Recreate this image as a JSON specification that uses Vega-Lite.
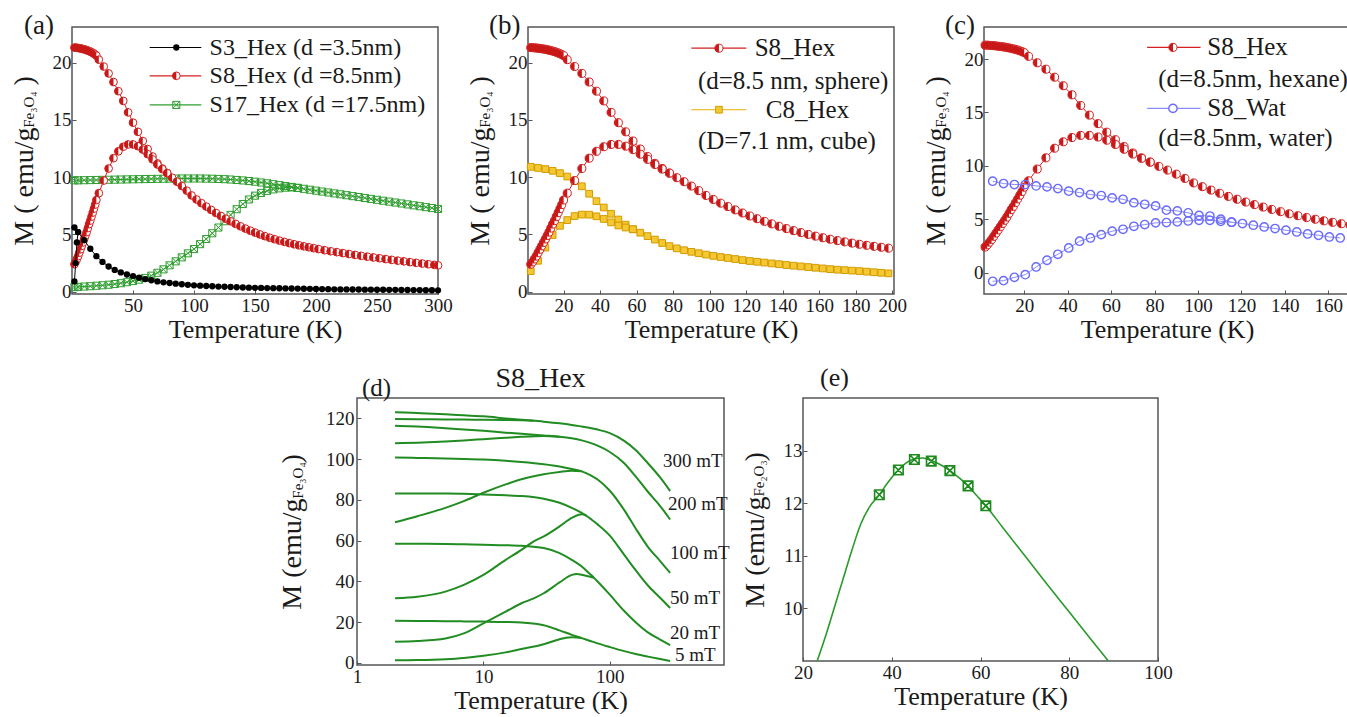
{
"$schema": "https://vega.github.io/schema/vega-lite/v6.json",
"padding": {"left": 9, "top": 11, "right": 0, "bottom": 0},
"config": {
  "font": "Liberation Serif",
  "view": {"stroke": "#555", "strokeWidth": 1.5},
  "axis": {"labelFont": "Liberation Serif", "titleFont": "Liberation Serif", "labelFontSize": 19, "titleFontSize": 26, "titleFontWeight": "normal", "labelColor": "#1a1a1a", "titleColor": "#1a1a1a", "domain": false, "grid": false, "tickColor": "#555", "tickSize": -4, "tickWidth": 1, "labelFlush": false, "labelOverlap": false},
  "axisX": {"labelPadding": 6, "titlePadding": 1},
  "axisY": {"labelPadding": 5, "titlePadding": 14, "titleFontSize": 28},
  "title": {"font": "Liberation Serif", "fontWeight": "normal", "color": "#1a1a1a", "fontSize": 24},
  "text": {"font": "Liberation Serif", "color": "#1a1a1a"}
},
"datasets": {
"s3": [
{"b":"Z","T":2,"M":0.9},{"b":"Z","T":3,"M":2.5},{"b":"Z","T":4,"M":4.3},{"b":"Z","T":5,"M":5.2},
{"b":"F","T":2,"M":5.6},{"b":"F","T":5,"M":5.2},{"b":"F","T":10,"M":4.5},{"b":"F","T":15,"M":3.75},{"b":"F","T":20,"M":3.1},{"b":"F","T":25,"M":2.6},{"b":"F","T":30,"M":2.2},{"b":"F","T":35,"M":1.9},{"b":"F","T":40,"M":1.68},{"b":"F","T":45,"M":1.5},{"b":"F","T":50,"M":1.36},{"b":"F","T":55,"M":1.22},{"b":"F","T":60,"M":1.1},{"b":"F","T":65,"M":1.0},{"b":"F","T":70,"M":0.9},{"b":"F","T":75,"M":0.82},{"b":"F","T":80,"M":0.76},{"b":"F","T":85,"M":0.7},{"b":"F","T":90,"M":0.65},{"b":"F","T":95,"M":0.6},{"b":"F","T":100,"M":0.56},{"b":"F","T":105,"M":0.53},{"b":"F","T":110,"M":0.5},{"b":"F","T":115,"M":0.475},{"b":"F","T":120,"M":0.45},{"b":"F","T":125,"M":0.43},{"b":"F","T":130,"M":0.41},{"b":"F","T":135,"M":0.39},{"b":"F","T":140,"M":0.37},{"b":"F","T":145,"M":0.355},{"b":"F","T":150,"M":0.34},{"b":"F","T":155,"M":0.33},{"b":"F","T":160,"M":0.32},{"b":"F","T":165,"M":0.31},{"b":"F","T":170,"M":0.3},{"b":"F","T":175,"M":0.29},{"b":"F","T":180,"M":0.28},{"b":"F","T":185,"M":0.27},{"b":"F","T":190,"M":0.26},{"b":"F","T":195,"M":0.25},{"b":"F","T":200,"M":0.24},{"b":"F","T":205,"M":0.23},{"b":"F","T":210,"M":0.22},{"b":"F","T":215,"M":0.21},{"b":"F","T":220,"M":0.2},{"b":"F","T":225,"M":0.2},{"b":"F","T":230,"M":0.19},{"b":"F","T":235,"M":0.19},{"b":"F","T":240,"M":0.18},{"b":"F","T":245,"M":0.18},{"b":"F","T":250,"M":0.17},{"b":"F","T":255,"M":0.17},{"b":"F","T":260,"M":0.16},{"b":"F","T":265,"M":0.16},{"b":"F","T":270,"M":0.15},{"b":"F","T":275,"M":0.15},{"b":"F","T":280,"M":0.14},{"b":"F","T":285,"M":0.14},{"b":"F","T":290,"M":0.13},{"b":"F","T":295,"M":0.13},{"b":"F","T":300,"M":0.12}
],
"s8": [
{"b":"F","T":2,"M":21.3},{"b":"F","T":3,"M":21.3},{"b":"F","T":4,"M":21.28},{"b":"F","T":5,"M":21.27},{"b":"F","T":6,"M":21.25},{"b":"F","T":7,"M":21.23},{"b":"F","T":8,"M":21.2},{"b":"F","T":9,"M":21.18},{"b":"F","T":10,"M":21.15},{"b":"F","T":11,"M":21.12},{"b":"F","T":12,"M":21.08},{"b":"F","T":13,"M":21.04},{"b":"F","T":14,"M":21.0},{"b":"F","T":15,"M":20.95},{"b":"F","T":16,"M":20.9},{"b":"F","T":17,"M":20.84},{"b":"F","T":18,"M":20.77},{"b":"F","T":19,"M":20.7},{"b":"F","T":20,"M":20.6},{"b":"F","T":22,"M":20.25},{"b":"F","T":26,"M":19.65},{"b":"F","T":30,"M":19.05},{"b":"F","T":34,"M":18.3},{"b":"F","T":38,"M":17.5},{"b":"F","T":42,"M":16.65},{"b":"F","T":46,"M":15.65},{"b":"F","T":50,"M":14.75},{"b":"F","T":54,"M":13.95},{"b":"F","T":58,"M":13.15},{"b":"F","T":62,"M":12.45},{"b":"F","T":66,"M":11.8},{"b":"F","T":70,"M":11.2},{"b":"F","T":74,"M":10.75},{"b":"F","T":78,"M":10.35},{"b":"F","T":82,"M":9.95},{"b":"F","T":86,"M":9.6},{"b":"F","T":90,"M":9.22},{"b":"F","T":94,"M":8.82},{"b":"F","T":98,"M":8.4},{"b":"F","T":102,"M":8.05},{"b":"F","T":106,"M":7.73},{"b":"F","T":110,"M":7.43},{"b":"F","T":114,"M":7.14},{"b":"F","T":118,"M":6.87},{"b":"F","T":122,"M":6.61},{"b":"F","T":126,"M":6.37},{"b":"F","T":130,"M":6.14},{"b":"F","T":134,"M":5.92},{"b":"F","T":138,"M":5.71},{"b":"F","T":142,"M":5.51},{"b":"F","T":146,"M":5.33},{"b":"F","T":150,"M":5.16},{"b":"F","T":154,"M":5.0},{"b":"F","T":158,"M":4.85},{"b":"F","T":162,"M":4.71},{"b":"F","T":166,"M":4.58},{"b":"F","T":170,"M":4.46},{"b":"F","T":174,"M":4.35},{"b":"F","T":178,"M":4.24},{"b":"F","T":182,"M":4.14},{"b":"F","T":186,"M":4.05},{"b":"F","T":190,"M":3.96},{"b":"F","T":194,"M":3.88},{"b":"F","T":198,"M":3.8},{"b":"F","T":202,"M":3.72},{"b":"F","T":207,"M":3.62},{"b":"F","T":212,"M":3.53},{"b":"F","T":217,"M":3.45},{"b":"F","T":222,"M":3.37},{"b":"F","T":227,"M":3.29},{"b":"F","T":232,"M":3.21},{"b":"F","T":237,"M":3.13},{"b":"F","T":242,"M":3.06},{"b":"F","T":247,"M":2.99},{"b":"F","T":252,"M":2.92},{"b":"F","T":257,"M":2.85},{"b":"F","T":262,"M":2.78},{"b":"F","T":267,"M":2.71},{"b":"F","T":272,"M":2.65},{"b":"F","T":277,"M":2.58},{"b":"F","T":282,"M":2.52},{"b":"F","T":287,"M":2.46},{"b":"F","T":292,"M":2.4},{"b":"F","T":297,"M":2.34},{"b":"F","T":300,"M":2.3},
{"b":"Z","T":2,"M":2.4},{"b":"Z","T":3,"M":2.6},{"b":"Z","T":4,"M":2.85},{"b":"Z","T":5,"M":3.1},{"b":"Z","T":6,"M":3.4},{"b":"Z","T":7,"M":3.7},{"b":"Z","T":8,"M":4.0},{"b":"Z","T":9,"M":4.3},{"b":"Z","T":10,"M":4.6},{"b":"Z","T":11,"M":4.9},{"b":"Z","T":12,"M":5.2},{"b":"Z","T":13,"M":5.55},{"b":"Z","T":14,"M":5.9},{"b":"Z","T":15,"M":6.2},{"b":"Z","T":16,"M":6.55},{"b":"Z","T":17,"M":6.9},{"b":"Z","T":18,"M":7.25},{"b":"Z","T":19,"M":7.6},{"b":"Z","T":20,"M":8.0},{"b":"Z","T":22,"M":8.6},{"b":"Z","T":26,"M":9.7},{"b":"Z","T":30,"M":10.75},{"b":"Z","T":34,"M":11.65},{"b":"Z","T":38,"M":12.25},{"b":"Z","T":42,"M":12.65},{"b":"Z","T":46,"M":12.85},{"b":"Z","T":50,"M":12.85},{"b":"Z","T":54,"M":12.7},{"b":"Z","T":58,"M":12.4},{"b":"Z","T":62,"M":12.0},{"b":"Z","T":66,"M":11.55},{"b":"Z","T":70,"M":11.1},{"b":"Z","T":74,"M":10.7},{"b":"Z","T":78,"M":10.35}
],
"s17": [
{"b":"F","T":2,"M":9.72},{"b":"F","T":5,"M":9.72},{"b":"F","T":10,"M":9.73},{"b":"F","T":15,"M":9.74},{"b":"F","T":20,"M":9.75},{"b":"F","T":25,"M":9.76},{"b":"F","T":30,"M":9.77},{"b":"F","T":35,"M":9.78},{"b":"F","T":40,"M":9.79},{"b":"F","T":45,"M":9.8},{"b":"F","T":50,"M":9.81},{"b":"F","T":55,"M":9.82},{"b":"F","T":60,"M":9.83},{"b":"F","T":65,"M":9.84},{"b":"F","T":70,"M":9.85},{"b":"F","T":75,"M":9.86},{"b":"F","T":80,"M":9.87},{"b":"F","T":85,"M":9.87},{"b":"F","T":90,"M":9.88},{"b":"F","T":95,"M":9.88},{"b":"F","T":100,"M":9.88},{"b":"F","T":105,"M":9.88},{"b":"F","T":110,"M":9.87},{"b":"F","T":115,"M":9.86},{"b":"F","T":120,"M":9.84},{"b":"F","T":125,"M":9.82},{"b":"F","T":130,"M":9.79},{"b":"F","T":135,"M":9.75},{"b":"F","T":140,"M":9.71},{"b":"F","T":145,"M":9.66},{"b":"F","T":150,"M":9.6},{"b":"F","T":155,"M":9.53},{"b":"F","T":160,"M":9.46},{"b":"F","T":165,"M":9.38},{"b":"F","T":170,"M":9.3},{"b":"F","T":175,"M":9.22},{"b":"F","T":180,"M":9.14},{"b":"F","T":185,"M":9.06},{"b":"F","T":190,"M":8.98},{"b":"F","T":195,"M":8.9},{"b":"F","T":200,"M":8.82},{"b":"F","T":205,"M":8.74},{"b":"F","T":210,"M":8.66},{"b":"F","T":215,"M":8.58},{"b":"F","T":220,"M":8.5},{"b":"F","T":225,"M":8.42},{"b":"F","T":230,"M":8.34},{"b":"F","T":235,"M":8.26},{"b":"F","T":240,"M":8.18},{"b":"F","T":245,"M":8.1},{"b":"F","T":250,"M":8.02},{"b":"F","T":255,"M":7.94},{"b":"F","T":260,"M":7.86},{"b":"F","T":265,"M":7.78},{"b":"F","T":270,"M":7.7},{"b":"F","T":275,"M":7.62},{"b":"F","T":280,"M":7.54},{"b":"F","T":285,"M":7.46},{"b":"F","T":290,"M":7.38},{"b":"F","T":295,"M":7.3},{"b":"F","T":300,"M":7.22},
{"b":"Z","T":2,"M":0.4},{"b":"Z","T":5,"M":0.42},{"b":"Z","T":10,"M":0.45},{"b":"Z","T":15,"M":0.48},{"b":"Z","T":20,"M":0.52},{"b":"Z","T":25,"M":0.56},{"b":"Z","T":30,"M":0.61},{"b":"Z","T":35,"M":0.67},{"b":"Z","T":40,"M":0.74},{"b":"Z","T":45,"M":0.83},{"b":"Z","T":50,"M":0.93},{"b":"Z","T":55,"M":1.05},{"b":"Z","T":60,"M":1.2},{"b":"Z","T":65,"M":1.4},{"b":"Z","T":70,"M":1.65},{"b":"Z","T":75,"M":1.95},{"b":"Z","T":80,"M":2.3},{"b":"Z","T":85,"M":2.65},{"b":"Z","T":90,"M":3.0},{"b":"Z","T":95,"M":3.35},{"b":"Z","T":100,"M":3.72},{"b":"Z","T":105,"M":4.15},{"b":"Z","T":110,"M":4.6},{"b":"Z","T":115,"M":5.1},{"b":"Z","T":120,"M":5.6},{"b":"Z","T":125,"M":6.15},{"b":"Z","T":130,"M":6.7},{"b":"Z","T":135,"M":7.2},{"b":"Z","T":140,"M":7.65},{"b":"Z","T":145,"M":8.05},{"b":"Z","T":150,"M":8.38},{"b":"Z","T":155,"M":8.62},{"b":"Z","T":160,"M":8.8},{"b":"Z","T":165,"M":8.93},{"b":"Z","T":170,"M":9.02},{"b":"Z","T":175,"M":9.08},{"b":"Z","T":180,"M":9.1},{"b":"Z","T":185,"M":9.06}
],
"c8": [
{"b":"F","T":2,"M":10.9},{"b":"F","T":6,"M":10.8},{"b":"F","T":10,"M":10.7},{"b":"F","T":14,"M":10.55},{"b":"F","T":18,"M":10.35},{"b":"F","T":22,"M":10.05},{"b":"F","T":26,"M":9.65},{"b":"F","T":30,"M":9.2},{"b":"F","T":34,"M":8.55},{"b":"F","T":38,"M":7.9},{"b":"F","T":42,"M":7.35},{"b":"F","T":46,"M":6.8},{"b":"F","T":50,"M":6.3},{"b":"F","T":54,"M":5.85},{"b":"F","T":58,"M":5.45},{"b":"F","T":62,"M":5.15},{"b":"F","T":66,"M":4.85},{"b":"F","T":70,"M":4.55},{"b":"F","T":74,"M":4.25},{"b":"F","T":78,"M":3.98},{"b":"F","T":82,"M":3.78},{"b":"F","T":86,"M":3.62},{"b":"F","T":90,"M":3.48},{"b":"F","T":94,"M":3.36},{"b":"F","T":98,"M":3.24},{"b":"F","T":102,"M":3.13},{"b":"F","T":106,"M":3.03},{"b":"F","T":110,"M":2.94},{"b":"F","T":114,"M":2.85},{"b":"F","T":118,"M":2.76},{"b":"F","T":122,"M":2.68},{"b":"F","T":126,"M":2.61},{"b":"F","T":130,"M":2.54},{"b":"F","T":134,"M":2.47},{"b":"F","T":138,"M":2.4},{"b":"F","T":142,"M":2.33},{"b":"F","T":146,"M":2.27},{"b":"F","T":150,"M":2.21},{"b":"F","T":154,"M":2.15},{"b":"F","T":158,"M":2.09},{"b":"F","T":162,"M":2.03},{"b":"F","T":166,"M":1.97},{"b":"F","T":170,"M":1.92},{"b":"F","T":174,"M":1.88},{"b":"F","T":178,"M":1.84},{"b":"F","T":182,"M":1.8},{"b":"F","T":186,"M":1.75},{"b":"F","T":190,"M":1.7},{"b":"F","T":194,"M":1.65},{"b":"F","T":198,"M":1.6},
{"b":"Z","T":2,"M":1.8},{"b":"Z","T":6,"M":2.7},{"b":"Z","T":10,"M":3.85},{"b":"Z","T":14,"M":4.95},{"b":"Z","T":18,"M":5.75},{"b":"Z","T":22,"M":6.25},{"b":"Z","T":26,"M":6.6},{"b":"Z","T":30,"M":6.73},{"b":"Z","T":34,"M":6.72},{"b":"Z","T":38,"M":6.58},{"b":"Z","T":42,"M":6.35},{"b":"Z","T":46,"M":6.05},{"b":"Z","T":50,"M":5.78},{"b":"Z","T":54,"M":5.6},{"b":"Z","T":58,"M":5.45}
],
"wat": [
{"b":"F","T":5.5,"M":8.56},{"b":"F","T":10.5,"M":8.34},{"b":"F","T":15.5,"M":8.25},{"b":"F","T":20.5,"M":8.25},{"b":"F","T":25.5,"M":8.12},{"b":"F","T":30.5,"M":8.03},{"b":"F","T":35.5,"M":7.87},{"b":"F","T":40.5,"M":7.63},{"b":"F","T":45.5,"M":7.5},{"b":"F","T":50.5,"M":7.31},{"b":"F","T":55.5,"M":7.22},{"b":"F","T":60.5,"M":7.0},{"b":"F","T":65.5,"M":6.87},{"b":"F","T":70.5,"M":6.55},{"b":"F","T":75.5,"M":6.4},{"b":"F","T":80.5,"M":6.25},{"b":"F","T":85.5,"M":5.85},{"b":"F","T":90.5,"M":5.78},{"b":"F","T":95.5,"M":5.6},{"b":"F","T":100.5,"M":5.35},{"b":"F","T":105.5,"M":5.3},{"b":"F","T":110.5,"M":5.0},{"b":"F","T":115.5,"M":4.72},
{"b":"Z","T":5.5,"M":-0.81},{"b":"Z","T":10.5,"M":-0.75},{"b":"Z","T":15.5,"M":-0.44},{"b":"Z","T":20.5,"M":-0.19},{"b":"Z","T":25.5,"M":0.53},{"b":"Z","T":30.5,"M":1.16},{"b":"Z","T":35.5,"M":1.72},{"b":"Z","T":40.5,"M":2.31},{"b":"Z","T":45.5,"M":2.94},{"b":"Z","T":50.5,"M":3.25},{"b":"Z","T":55.5,"M":3.56},{"b":"Z","T":60.5,"M":3.88},{"b":"Z","T":65.5,"M":4.06},{"b":"Z","T":70.5,"M":4.34},{"b":"Z","T":75.5,"M":4.5},{"b":"Z","T":80.5,"M":4.66},{"b":"Z","T":85.5,"M":4.69},{"b":"Z","T":90.5,"M":4.75},{"b":"Z","T":95.5,"M":4.84},{"b":"Z","T":100.5,"M":4.9},{"b":"Z","T":105.5,"M":4.9},{"b":"Z","T":110.5,"M":4.81},{"b":"Z","T":115.5,"M":4.72},{"b":"Z","T":120.5,"M":4.6},{"b":"Z","T":125.5,"M":4.44},{"b":"Z","T":130.5,"M":4.28},{"b":"Z","T":135.5,"M":4.13},{"b":"Z","T":140.5,"M":3.97},{"b":"Z","T":145.5,"M":3.81},{"b":"Z","T":150.5,"M":3.62},{"b":"Z","T":155.5,"M":3.5},{"b":"Z","T":160.5,"M":3.34},{"b":"Z","T":165.5,"M":3.25}
],
"d": [
{"f":"300","b":"F","T":2,"M":123},{"f":"300","b":"F","T":3,"M":122.6},{"f":"300","b":"F","T":5,"M":122},{"f":"300","b":"F","T":7,"M":121.5},{"f":"300","b":"F","T":10,"M":121},{"f":"300","b":"F","T":15,"M":120},{"f":"300","b":"F","T":20,"M":119.3},{"f":"300","b":"F","T":30,"M":118.4},{"f":"300","b":"F","T":40,"M":117.6},{"f":"300","b":"F","T":50,"M":116.8},{"f":"300","b":"F","T":60,"M":116},{"f":"300","b":"F","T":70,"M":115.3},{"f":"300","b":"F","T":80,"M":114.5},{"f":"300","b":"F","T":100,"M":112.8},{"f":"300","b":"F","T":130,"M":109},{"f":"300","b":"F","T":160,"M":104.5},{"f":"300","b":"F","T":200,"M":98},{"f":"300","b":"F","T":250,"M":91},{"f":"300","b":"F","T":300,"M":84.3},
{"f":"300","b":"Z","T":2,"M":119.7},{"f":"300","b":"Z","T":3,"M":119.6},{"f":"300","b":"Z","T":5,"M":119.5},{"f":"300","b":"Z","T":7,"M":119.4},{"f":"300","b":"Z","T":10,"M":119.3},{"f":"300","b":"Z","T":15,"M":119.2},{"f":"300","b":"Z","T":20,"M":119.05},{"f":"300","b":"Z","T":25,"M":118.85},
{"f":"200","b":"F","T":2,"M":116.4},{"f":"200","b":"F","T":3,"M":116},{"f":"200","b":"F","T":5,"M":115.2},{"f":"200","b":"F","T":7,"M":114.6},{"f":"200","b":"F","T":10,"M":113.9},{"f":"200","b":"F","T":15,"M":113},{"f":"200","b":"F","T":20,"M":112.4},{"f":"200","b":"F","T":30,"M":111.6},{"f":"200","b":"F","T":40,"M":111},{"f":"200","b":"F","T":50,"M":110.2},{"f":"200","b":"F","T":60,"M":109.2},{"f":"200","b":"F","T":70,"M":108},{"f":"200","b":"F","T":80,"M":106.6},{"f":"200","b":"F","T":100,"M":103.5},{"f":"200","b":"F","T":130,"M":98},{"f":"200","b":"F","T":160,"M":91.5},{"f":"200","b":"F","T":200,"M":84},{"f":"200","b":"F","T":250,"M":77},{"f":"200","b":"F","T":300,"M":70.4},
{"f":"200","b":"Z","T":2,"M":107.8},{"f":"200","b":"Z","T":3,"M":108.1},{"f":"200","b":"Z","T":5,"M":108.7},{"f":"200","b":"Z","T":7,"M":109.2},{"f":"200","b":"Z","T":10,"M":109.8},{"f":"200","b":"Z","T":15,"M":110.5},{"f":"200","b":"Z","T":20,"M":111},{"f":"200","b":"Z","T":30,"M":111.4},{"f":"200","b":"Z","T":40,"M":111},
{"f":"100","b":"F","T":2,"M":100.8},{"f":"100","b":"F","T":3,"M":100.6},{"f":"100","b":"F","T":5,"M":100.3},{"f":"100","b":"F","T":7,"M":100.1},{"f":"100","b":"F","T":10,"M":99.8},{"f":"100","b":"F","T":15,"M":99.2},{"f":"100","b":"F","T":20,"M":98.6},{"f":"100","b":"F","T":30,"M":97.5},{"f":"100","b":"F","T":40,"M":96.4},{"f":"100","b":"F","T":50,"M":95.2},{"f":"100","b":"F","T":60,"M":94},{"f":"100","b":"F","T":70,"M":92.2},{"f":"100","b":"F","T":80,"M":90},{"f":"100","b":"F","T":100,"M":84.5},{"f":"100","b":"F","T":130,"M":75},{"f":"100","b":"F","T":160,"M":66},{"f":"100","b":"F","T":200,"M":57},{"f":"100","b":"F","T":250,"M":50},{"f":"100","b":"F","T":300,"M":44.2},
{"f":"100","b":"Z","T":2,"M":69},{"f":"100","b":"Z","T":3,"M":72},{"f":"100","b":"Z","T":5,"M":76.1},{"f":"100","b":"Z","T":7,"M":79.4},{"f":"100","b":"Z","T":10,"M":83.5},{"f":"100","b":"Z","T":15,"M":87.6},{"f":"100","b":"Z","T":20,"M":90.1},{"f":"100","b":"Z","T":30,"M":92.6},{"f":"100","b":"Z","T":40,"M":93.7},{"f":"100","b":"Z","T":50,"M":94.3},{"f":"100","b":"Z","T":60,"M":94},
{"f":"50","b":"F","T":2,"M":83.2},{"f":"50","b":"F","T":3,"M":83.15},{"f":"50","b":"F","T":5,"M":83.1},{"f":"50","b":"F","T":7,"M":83},{"f":"50","b":"F","T":10,"M":82.7},{"f":"50","b":"F","T":15,"M":82.3},{"f":"50","b":"F","T":20,"M":81.9},{"f":"50","b":"F","T":30,"M":80.6},{"f":"50","b":"F","T":40,"M":78.6},{"f":"50","b":"F","T":50,"M":76.1},{"f":"50","b":"F","T":60,"M":73.6},{"f":"50","b":"F","T":65,"M":72.3},{"f":"50","b":"F","T":70,"M":70.8},{"f":"50","b":"F","T":80,"M":68},{"f":"50","b":"F","T":100,"M":62.5},{"f":"50","b":"F","T":130,"M":53},{"f":"50","b":"F","T":160,"M":45.5},{"f":"50","b":"F","T":200,"M":38},{"f":"50","b":"F","T":250,"M":32},{"f":"50","b":"F","T":300,"M":27},
{"f":"50","b":"Z","T":2,"M":31.7},{"f":"50","b":"Z","T":3,"M":32.5},{"f":"50","b":"Z","T":5,"M":35},{"f":"50","b":"Z","T":7,"M":38.3},{"f":"50","b":"Z","T":10,"M":43.2},{"f":"50","b":"Z","T":15,"M":50.6},{"f":"50","b":"Z","T":20,"M":55.5},{"f":"50","b":"Z","T":25,"M":59.7},{"f":"50","b":"Z","T":30,"M":62.1},{"f":"50","b":"Z","T":40,"M":67},{"f":"50","b":"Z","T":50,"M":71.2},{"f":"50","b":"Z","T":60,"M":73},{"f":"50","b":"Z","T":65,"M":72.3},
{"f":"20","b":"F","T":2,"M":58.5},{"f":"20","b":"F","T":3,"M":58.5},{"f":"20","b":"F","T":5,"M":58.4},{"f":"20","b":"F","T":7,"M":58.2},{"f":"20","b":"F","T":10,"M":58},{"f":"20","b":"F","T":15,"M":57.8},{"f":"20","b":"F","T":20,"M":57.5},{"f":"20","b":"F","T":30,"M":56.4},{"f":"20","b":"F","T":40,"M":53.9},{"f":"20","b":"F","T":50,"M":50.6},{"f":"20","b":"F","T":60,"M":47.3},{"f":"20","b":"F","T":70,"M":43.5},{"f":"20","b":"F","T":75,"M":41.75},{"f":"20","b":"F","T":80,"M":40},{"f":"20","b":"F","T":100,"M":33.5},{"f":"20","b":"F","T":130,"M":25.5},{"f":"20","b":"F","T":160,"M":20},{"f":"20","b":"F","T":200,"M":15},{"f":"20","b":"F","T":250,"M":11.5},{"f":"20","b":"F","T":300,"M":8.7},
{"f":"20","b":"Z","T":2,"M":10.4},{"f":"20","b":"Z","T":3,"M":10.8},{"f":"20","b":"Z","T":5,"M":12},{"f":"20","b":"Z","T":7,"M":14.5},{"f":"20","b":"Z","T":10,"M":19.4},{"f":"20","b":"Z","T":15,"M":25.2},{"f":"20","b":"Z","T":20,"M":29.3},{"f":"20","b":"Z","T":25,"M":31.7},{"f":"20","b":"Z","T":30,"M":34.2},{"f":"20","b":"Z","T":40,"M":39.5},{"f":"20","b":"Z","T":50,"M":43.2},{"f":"20","b":"Z","T":55,"M":43.7},{"f":"20","b":"Z","T":60,"M":43.3},{"f":"20","b":"Z","T":70,"M":42.3},{"f":"20","b":"Z","T":75,"M":41.75},
{"f":"5","b":"F","T":2,"M":20.7},{"f":"5","b":"F","T":3,"M":20.6},{"f":"5","b":"F","T":5,"M":20.5},{"f":"5","b":"F","T":7,"M":20.4},{"f":"5","b":"F","T":10,"M":20.3},{"f":"5","b":"F","T":15,"M":20.1},{"f":"5","b":"F","T":20,"M":19.8},{"f":"5","b":"F","T":30,"M":18.5},{"f":"5","b":"F","T":40,"M":16},{"f":"5","b":"F","T":50,"M":13.8},{"f":"5","b":"F","T":60,"M":12.2},{"f":"5","b":"F","T":70,"M":10.8},{"f":"5","b":"F","T":80,"M":9.6},{"f":"5","b":"F","T":100,"M":7.8},{"f":"5","b":"F","T":130,"M":5.8},{"f":"5","b":"F","T":160,"M":4.4},{"f":"5","b":"F","T":200,"M":3.1},{"f":"5","b":"F","T":250,"M":1.9},{"f":"5","b":"F","T":300,"M":1.0},
{"f":"5","b":"Z","T":2,"M":1.3},{"f":"5","b":"Z","T":3,"M":1.4},{"f":"5","b":"Z","T":5,"M":1.8},{"f":"5","b":"Z","T":7,"M":2.4},{"f":"5","b":"Z","T":10,"M":3.5},{"f":"5","b":"Z","T":15,"M":5.2},{"f":"5","b":"Z","T":20,"M":6.8},{"f":"5","b":"Z","T":30,"M":9.2},{"f":"5","b":"Z","T":40,"M":11.6},{"f":"5","b":"Z","T":45,"M":12.4},{"f":"5","b":"Z","T":50,"M":12.6},{"f":"5","b":"Z","T":55,"M":12.5},{"f":"5","b":"Z","T":60,"M":12.2}
],
"e": [
{"T":23.2,"M":9.0},{"T":25,"M":9.45},{"T":27,"M":10.0},{"T":29,"M":10.55},{"T":31,"M":11.1},{"T":33,"M":11.6},{"T":35,"M":11.93},{"T":37.2,"M":12.16},{"T":39,"M":12.38},{"T":41.5,"M":12.63},{"T":43.5,"M":12.78},{"T":45.1,"M":12.84},{"T":47,"M":12.86},{"T":48.9,"M":12.81},{"T":51,"M":12.73},{"T":53.1,"M":12.62},{"T":55.2,"M":12.48},{"T":57.2,"M":12.33},{"T":59.2,"M":12.14},{"T":61.2,"M":11.95},{"T":65,"M":11.54},{"T":70,"M":11.0},{"T":75,"M":10.46},{"T":80,"M":9.93},{"T":85,"M":9.4},{"T":88.8,"M":9.0}
],
"emk": [
{"T":37.2,"M":12.16},{"T":41.5,"M":12.63},{"T":45.1,"M":12.83},{"T":48.9,"M":12.8},{"T":53.1,"M":12.62},{"T":57.2,"M":12.33},{"T":61.2,"M":11.95}
]
},
"vconcat": [
{"hconcat": [
{
 "width": 366, "height": 267,
 "title": {"text": "(a)", "anchor": "start", "frame": "group", "dx": -48, "offset": -34, "baseline": "alphabetic", "fontSize": 27},
 "layer": [
  {
   "encoding": {
    "x": {"field": "T", "type": "quantitative", "scale": {"domain": [0, 300], "nice": false, "zero": false}, "axis": {"title": "Temperature (K)", "values": [50, 100, 150, 200, 250, 300], "format": "d"}},
    "y": {"field": "M", "type": "quantitative", "scale": {"domain": [-0.2, 23.1], "nice": false, "zero": false}, "axis": {"title": "M ( emu/g\u00a0\u00a0\u00a0\u00a0\u00a0 )", "values": [0, 5, 10, 15, 20], "format": "d"}}
   },
   "layer": [
    {"data": {"name": "s17"}, "mark": {"type": "line", "color": "#2f9e2f", "strokeWidth": 1}, "encoding": {"detail": {"field": "b"}}},
    {"data": {"name": "s17"}, "mark": {"type": "point", "shape": "M-1,-1H1V1H-1Z M-1,-1L1,1 M1,-1L-1,1", "filled": false, "color": "#2f9e2f", "strokeWidth": 1, "size": 50, "opacity": 1}},
    {"data": {"name": "s8"}, "mark": {"type": "line", "color": "#d42020", "strokeWidth": 1}, "encoding": {"detail": {"field": "b"}}},
    {"data": {"name": "s8"}, "mark": {"type": "point", "shape": "circle", "filled": true, "fill": "#ffffff", "stroke": "#d42020", "strokeWidth": 1, "size": 60, "opacity": 1}},
    {"data": {"name": "s8"}, "mark": {"type": "point", "shape": "M0,-1A1,1 0 0,0 0,1Z", "filled": true, "color": "#c81818", "size": 60, "opacity": 1}},
    {"data": {"name": "s3"}, "mark": {"type": "line", "color": "#000000", "strokeWidth": 1}, "encoding": {"detail": {"field": "b"}}},
    {"data": {"name": "s3"}, "mark": {"type": "point", "shape": "circle", "filled": true, "color": "#000000", "size": 40, "opacity": 1}}
   ]
  },
  {
   "data": {"values": [{}]},
   "layer": [
    {"mark": {"type": "rule", "color": "#000000", "strokeWidth": 1.2}, "encoding": {"x": {"datum": 63.7}, "x2": {"datum": 106}, "y": {"datum": 21.31}}},
    {"mark": {"type": "point", "shape": "circle", "filled": true, "color": "#000000", "size": 40, "opacity": 1}, "encoding": {"x": {"datum": 85.5}, "y": {"datum": 21.31}}},
    {"mark": {"type": "text", "align": "left", "baseline": "middle", "fontSize": 24}, "encoding": {"x": {"datum": 112.8}, "y": {"datum": 21.31}, "text": {"value": "S3_Hex (d =3.5nm)"}}},
    {"mark": {"type": "rule", "color": "#d42020", "strokeWidth": 1.2}, "encoding": {"x": {"datum": 63.7}, "x2": {"datum": 106}, "y": {"datum": 18.84}}},
    {"mark": {"type": "point", "shape": "circle", "filled": true, "fill": "#ffffff", "stroke": "#d42020", "strokeWidth": 1, "size": 60, "opacity": 1}, "encoding": {"x": {"datum": 85.5}, "y": {"datum": 18.84}}},
    {"mark": {"type": "point", "shape": "M0,-1A1,1 0 0,0 0,1Z", "filled": true, "color": "#c81818", "size": 60, "opacity": 1}, "encoding": {"x": {"datum": 85.5}, "y": {"datum": 18.84}}},
    {"mark": {"type": "text", "align": "left", "baseline": "middle", "fontSize": 24}, "encoding": {"x": {"datum": 112.8}, "y": {"datum": 18.84}, "text": {"value": "S8_Hex (d =8.5nm)"}}},
    {"mark": {"type": "rule", "color": "#2f9e2f", "strokeWidth": 1.2}, "encoding": {"x": {"datum": 63.7}, "x2": {"datum": 106}, "y": {"datum": 16.3}}},
    {"mark": {"type": "point", "shape": "M-1,-1H1V1H-1Z M-1,-1L1,1 M1,-1L-1,1", "filled": false, "color": "#2f9e2f", "strokeWidth": 1, "size": 50, "opacity": 1}, "encoding": {"x": {"datum": 85.5}, "y": {"datum": 16.3}}},
    {"mark": {"type": "text", "align": "left", "baseline": "middle", "fontSize": 24}, "encoding": {"x": {"datum": 112.8}, "y": {"datum": 16.3}, "text": {"value": "S17_Hex (d =17.5nm)"}}},
    {"mark": {"type": "text", "angle": 270, "fontSize": 15, "align": "center", "baseline": "middle"}, "encoding": {"x": {"datum": -35.2}, "y": {"datum": 15.89}, "text": {"value": "Fe₃O₄"}}}
   ]
  }
 ]
},
{
 "width": 366, "height": 267,
 "title": {"text": "(b)", "anchor": "start", "frame": "group", "dx": -39, "offset": -34, "baseline": "alphabetic", "fontSize": 27},
 "layer": [
  {
   "encoding": {
    "x": {"field": "T", "type": "quantitative", "scale": {"domain": [0.5, 201], "nice": false, "zero": false}, "axis": {"title": "Temperature (K)", "values": [20, 40, 60, 80, 100, 120, 140, 160, 180, 200], "format": "d"}},
    "y": {"field": "M", "type": "quantitative", "scale": {"domain": [-0.2, 23.1], "nice": false, "zero": false}, "axis": {"title": "M ( emu/g\u00a0\u00a0\u00a0\u00a0\u00a0 )", "values": [0, 5, 10, 15, 20], "format": "d"}}
   },
   "layer": [
    {"data": {"name": "c8"}, "mark": {"type": "line", "color": "#e6b000", "strokeWidth": 1}, "encoding": {"detail": {"field": "b"}}},
    {"data": {"name": "c8"}, "mark": {"type": "point", "shape": "square", "filled": true, "fill": "#f3c832", "stroke": "#d49a00", "strokeWidth": 1, "size": 45, "opacity": 1}},
    {"data": {"name": "s8"}, "transform": [{"filter": "datum.T <= 201"}], "mark": {"type": "line", "color": "#d42020", "strokeWidth": 1}, "encoding": {"detail": {"field": "b"}}},
    {"data": {"name": "s8"}, "transform": [{"filter": "datum.T <= 201"}], "mark": {"type": "point", "shape": "circle", "filled": true, "fill": "#ffffff", "stroke": "#d42020", "strokeWidth": 1, "size": 65, "opacity": 1}},
    {"data": {"name": "s8"}, "transform": [{"filter": "datum.T <= 201"}], "mark": {"type": "point", "shape": "M0,-1A1,1 0 0,0 0,1Z", "filled": true, "color": "#c81818", "size": 65, "opacity": 1}}
   ]
  },
  {
   "data": {"values": [{}]},
   "layer": [
    {"mark": {"type": "rule", "color": "#d42020", "strokeWidth": 1.2}, "encoding": {"x": {"datum": 90}, "x2": {"datum": 120.1}, "y": {"datum": 21.25}}},
    {"mark": {"type": "point", "shape": "circle", "filled": true, "fill": "#ffffff", "stroke": "#d42020", "strokeWidth": 1, "size": 65, "opacity": 1}, "encoding": {"x": {"datum": 105.1}, "y": {"datum": 21.25}}},
    {"mark": {"type": "point", "shape": "M0,-1A1,1 0 0,0 0,1Z", "filled": true, "color": "#c81818", "size": 65, "opacity": 1}, "encoding": {"x": {"datum": 105.1}, "y": {"datum": 21.25}}},
    {"mark": {"type": "text", "align": "left", "baseline": "middle", "fontSize": 25}, "encoding": {"x": {"datum": 124.7}, "y": {"datum": 21.25}, "text": {"value": "S8_Hex"}}},
    {"mark": {"type": "text", "align": "left", "baseline": "middle", "fontSize": 25}, "encoding": {"x": {"datum": 93.6}, "y": {"datum": 18.4}, "text": {"value": "(d=8.5 nm, sphere)"}}},
    {"mark": {"type": "rule", "color": "#e6b000", "strokeWidth": 1.2}, "encoding": {"x": {"datum": 90}, "x2": {"datum": 120.1}, "y": {"datum": 15.88}}},
    {"mark": {"type": "point", "shape": "square", "filled": true, "fill": "#f3c832", "stroke": "#d49a00", "strokeWidth": 1, "size": 45, "opacity": 1}, "encoding": {"x": {"datum": 105.1}, "y": {"datum": 15.88}}},
    {"mark": {"type": "text", "align": "left", "baseline": "middle", "fontSize": 25}, "encoding": {"x": {"datum": 130.8}, "y": {"datum": 15.88}, "text": {"value": "C8_Hex"}}},
    {"mark": {"type": "text", "align": "left", "baseline": "middle", "fontSize": 25}, "encoding": {"x": {"datum": 93.6}, "y": {"datum": 13.12}, "text": {"value": "(D=7.1 nm, cube)"}}},
    {"mark": {"type": "text", "angle": 270, "fontSize": 15, "align": "center", "baseline": "middle"}, "encoding": {"x": {"datum": -23.1}, "y": {"datum": 15.89}, "text": {"value": "Fe₃O₄"}}}
   ]
  }
 ]
},
{
 "width": 366, "height": 267,
 "title": {"text": "(c)", "anchor": "start", "frame": "group", "dx": -39, "offset": -34, "baseline": "alphabetic", "fontSize": 27},
 "layer": [
  {
   "encoding": {
    "x": {"field": "T", "type": "quantitative", "scale": {"domain": [1.5, 170], "nice": false, "zero": false}, "axis": {"title": "Temperature (K)", "values": [20, 40, 60, 80, 100, 120, 140, 160], "format": "d"}},
    "y": {"field": "M", "type": "quantitative", "scale": {"domain": [-2, 23], "nice": false, "zero": false}, "axis": {"title": "M ( emu/g\u00a0\u00a0\u00a0\u00a0\u00a0 )", "values": [0, 5, 10, 15, 20], "format": "d"}}
   },
   "layer": [
    {"data": {"name": "s8"}, "transform": [{"filter": "datum.T <= 172"}], "mark": {"type": "line", "color": "#d42020", "strokeWidth": 1}, "encoding": {"detail": {"field": "b"}}},
    {"data": {"name": "s8"}, "transform": [{"filter": "datum.T <= 172"}], "mark": {"type": "point", "shape": "circle", "filled": true, "fill": "#ffffff", "stroke": "#d42020", "strokeWidth": 1, "size": 65, "opacity": 1}},
    {"data": {"name": "s8"}, "transform": [{"filter": "datum.T <= 172"}], "mark": {"type": "point", "shape": "M0,-1A1,1 0 0,0 0,1Z", "filled": true, "color": "#c81818", "size": 65, "opacity": 1}},
    {"data": {"name": "wat"}, "mark": {"type": "line", "color": "#8a8aff", "strokeWidth": 1}, "encoding": {"detail": {"field": "b"}}},
    {"data": {"name": "wat"}, "mark": {"type": "point", "shape": "circle", "filled": false, "color": "#6a6aff", "strokeWidth": 1.4, "size": 70, "opacity": 1}}
   ]
  },
  {
   "data": {"values": [{}]},
   "layer": [
    {"mark": {"type": "rule", "color": "#d42020", "strokeWidth": 1.2}, "encoding": {"x": {"datum": 76.6}, "x2": {"datum": 101.2}, "y": {"datum": 21.09}}},
    {"mark": {"type": "point", "shape": "circle", "filled": true, "fill": "#ffffff", "stroke": "#d42020", "strokeWidth": 1, "size": 65, "opacity": 1}, "encoding": {"x": {"datum": 88.5}, "y": {"datum": 21.09}}},
    {"mark": {"type": "point", "shape": "M0,-1A1,1 0 0,0 0,1Z", "filled": true, "color": "#c81818", "size": 65, "opacity": 1}, "encoding": {"x": {"datum": 88.5}, "y": {"datum": 21.09}}},
    {"mark": {"type": "text", "align": "left", "baseline": "middle", "fontSize": 25}, "encoding": {"x": {"datum": 104.3}, "y": {"datum": 21.09}, "text": {"value": "S8_Hex"}}},
    {"mark": {"type": "text", "align": "left", "baseline": "middle", "fontSize": 25}, "encoding": {"x": {"datum": 81.7}, "y": {"datum": 18.13}, "text": {"value": "(d=8.5nm, hexane)"}}},
    {"mark": {"type": "rule", "color": "#8a8aff", "strokeWidth": 1.2}, "encoding": {"x": {"datum": 76.6}, "x2": {"datum": 101.2}, "y": {"datum": 15.38}}},
    {"mark": {"type": "point", "shape": "circle", "filled": true, "fill": "#ffffff", "stroke": "#6a6aff", "strokeWidth": 1.4, "size": 70, "opacity": 1}, "encoding": {"x": {"datum": 88.5}, "y": {"datum": 15.38}}},
    {"mark": {"type": "text", "align": "left", "baseline": "middle", "fontSize": 25}, "encoding": {"x": {"datum": 104.3}, "y": {"datum": 15.38}, "text": {"value": "S8_Wat"}}},
    {"mark": {"type": "text", "align": "left", "baseline": "middle", "fontSize": 25}, "encoding": {"x": {"datum": 81.7}, "y": {"datum": 12.56}, "text": {"value": "(d=8.5nm, water)"}}},
    {"mark": {"type": "text", "angle": 270, "fontSize": 15, "align": "center", "baseline": "middle"}, "encoding": {"x": {"datum": -18.3}, "y": {"datum": 15.27}, "text": {"value": "Fe₃O₄"}}}
   ]
  }
 ]
}
], "spacing": 90, "bounds": "flush"},
{"hconcat": [
{"width": 206, "height": 10, "view": {"stroke": null}, "data": {"values": []}, "mark": "point"},
{
 "width": 367, "height": 267,
 "title": {"text": "S8_Hex", "anchor": "middle", "frame": "group", "fontSize": 28, "offset": -17},
 "layer": [
  {
   "data": {"name": "d"},
   "mark": {"type": "line", "color": "#218c21", "strokeWidth": 2, "interpolate": "monotone"},
   "encoding": {
    "x": {"field": "T", "type": "quantitative", "scale": {"type": "log", "domain": [1, 800], "nice": false}, "axis": {"title": "Temperature (K)", "values": [1, 10, 100], "format": "d"}},
    "y": {"field": "M", "type": "quantitative", "scale": {"domain": [-1, 130], "nice": false, "zero": false}, "axis": {"title": "M (emu/g\u00a0\u00a0\u00a0\u00a0\u00a0)", "values": [0, 20, 40, 60, 80, 100, 120], "format": "d", "labelPadding": 7, "titlePadding": 19}},
    "detail": [{"field": "f"}, {"field": "b"}]
   }
  },
  {
   "data": {"values": [{}]},
   "layer": [
    {"mark": {"type": "text", "align": "left", "baseline": "middle", "fontSize": 19}, "encoding": {"x": {"datum": 263}, "y": {"datum": 99.1}, "text": {"value": "300 mT"}}},
    {"mark": {"type": "text", "align": "left", "baseline": "middle", "fontSize": 19}, "encoding": {"x": {"datum": 288}, "y": {"datum": 77.8}, "text": {"value": "200 mT"}}},
    {"mark": {"type": "text", "align": "left", "baseline": "middle", "fontSize": 19}, "encoding": {"x": {"datum": 299}, "y": {"datum": 54.1}, "text": {"value": "100 mT"}}},
    {"mark": {"type": "text", "align": "left", "baseline": "middle", "fontSize": 19}, "encoding": {"x": {"datum": 299}, "y": {"datum": 31.9}, "text": {"value": "50 mT"}}},
    {"mark": {"type": "text", "align": "left", "baseline": "middle", "fontSize": 19}, "encoding": {"x": {"datum": 299}, "y": {"datum": 14.6}, "text": {"value": "20 mT"}}},
    {"mark": {"type": "text", "align": "left", "baseline": "middle", "fontSize": 19}, "encoding": {"x": {"datum": 328}, "y": {"datum": 3.8}, "text": {"value": "5 mT"}}},
    {"mark": {"type": "text", "align": "left", "baseline": "middle", "fontSize": 25}, "encoding": {"x": {"datum": 1.095}, "y": {"datum": 134.9}, "text": {"value": "(d)"}}},
    {"mark": {"type": "text", "angle": 270, "fontSize": 15, "align": "center", "baseline": "middle"}, "encoding": {"x": {"datum": 0.341}, "y": {"datum": 89.5}, "text": {"value": "Fe₃O₄"}}}
   ]
  }
 ]
},
{
 "width": 355, "height": 263,
 "title": {"text": "(e)", "anchor": "start", "frame": "group", "dx": 17, "offset": -14, "baseline": "alphabetic", "fontSize": 26},
 "layer": [
  {
   "encoding": {
    "x": {"field": "T", "type": "quantitative", "scale": {"domain": [20, 100], "nice": false, "zero": false}, "axis": {"title": "Temperature (K)", "values": [20, 40, 60, 80, 100], "format": "d"}},
    "y": {"field": "M", "type": "quantitative", "scale": {"domain": [9, 14], "nice": false, "zero": false}, "axis": {"title": "M (emu/g\u00a0\u00a0\u00a0\u00a0\u00a0)", "values": [10, 11, 12, 13], "format": "d"}}
   },
   "layer": [
    {"data": {"name": "e"}, "mark": {"type": "line", "color": "#2a9a2a", "strokeWidth": 1.6, "interpolate": "monotone", "clip": true}},
    {"data": {"name": "emk"}, "mark": {"type": "point", "shape": "M-1,-1H1V1H-1Z M-1,-1L1,1 M1,-1L-1,1", "filled": false, "color": "#1e8a1e", "strokeWidth": 1.6, "size": 90, "opacity": 1}}
   ]
  },
  {
   "data": {"values": [{}]},
   "mark": {"type": "text", "angle": 270, "fontSize": 15, "align": "center", "baseline": "middle"},
   "encoding": {"x": {"datum": 10.08}, "y": {"datum": 12.47}, "text": {"value": "Fe₂O₃"}}
  }
 ]
}
], "spacing": 79, "bounds": "flush"}
],
"spacing": 21
}
